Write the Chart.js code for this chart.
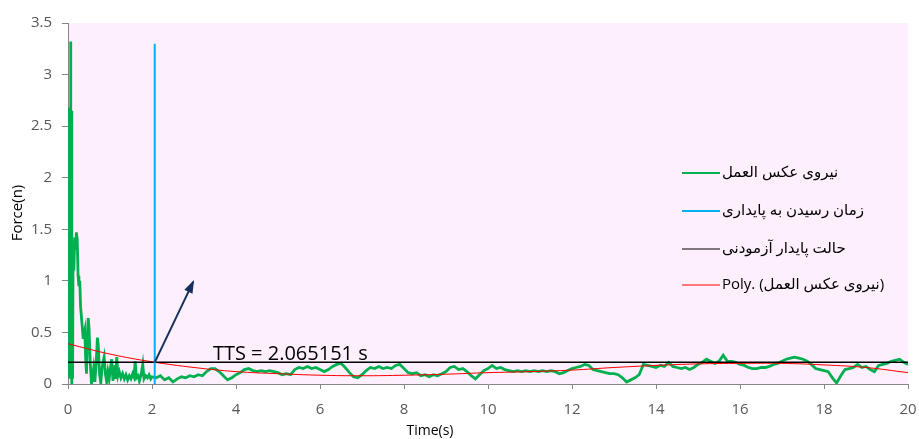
<!DOCTYPE html>
<html>
<head>
<meta charset="utf-8">
<script src="https://cdn.jsdelivr.net/npm/chart.js@4.4.1/dist/chart.umd.min.js"></script>
<style>
  body { margin: 0; background: #ffffff; }
  #wrap { width: 919px; height: 439px; }
</style>
</head>
<body>
<div id="wrap"><canvas id="forceChart" width="919" height="439"></canvas></div>
<script>
// نیروی عکس العمل - time (s) / force (n)
const timeSamples = [
  0.00, 0.01, 0.02, 0.03, 0.04, 0.05, 0.06, 0.07, 0.08, 0.09, 0.10, 0.11, 0.12, 0.14, 0.16, 0.18,
  0.20, 0.22, 0.24, 0.26, 0.28, 0.30, 0.33, 0.36, 0.38, 0.40, 0.42, 0.44, 0.46, 0.48, 0.50, 0.53,
  0.56, 0.58, 0.61, 0.64, 0.67, 0.70, 0.72, 0.75, 0.78, 0.81, 0.84, 0.86, 0.89, 0.92, 0.95, 0.98,
  1.01, 1.04, 1.07, 1.10, 1.13, 1.16, 1.19, 1.22, 1.26, 1.30, 1.34, 1.38, 1.42, 1.46, 1.50, 1.54,
  1.57, 1.60, 1.63, 1.67, 1.70, 1.74, 1.78, 1.81, 1.85, 1.89, 1.93, 1.97,
  2.0, 2.1, 2.2, 2.3, 2.4, 2.5, 2.6, 2.7, 2.8, 2.9,
  3.0, 3.1, 3.2, 3.3, 3.4, 3.5, 3.6, 3.7, 3.8, 3.9,
  4.0, 4.1, 4.2, 4.3, 4.4, 4.5, 4.6, 4.7, 4.8, 4.9,
  5.0, 5.1, 5.2, 5.3, 5.4, 5.5, 5.6, 5.7, 5.8, 5.9,
  6.0, 6.1, 6.2, 6.3, 6.4, 6.5, 6.6, 6.7, 6.8, 6.9,
  7.0, 7.1, 7.2, 7.3, 7.4, 7.5, 7.6, 7.7, 7.8, 7.9,
  8.0, 8.1, 8.2, 8.3, 8.4, 8.5, 8.6, 8.7, 8.8, 8.9,
  9.0, 9.1, 9.2, 9.3, 9.4, 9.5, 9.6, 9.7, 9.8, 9.9,
  10.0, 10.1, 10.2, 10.3, 10.4, 10.5, 10.6, 10.7, 10.8, 10.9,
  11.0, 11.1, 11.2, 11.3, 11.4, 11.5, 11.6, 11.7, 11.8, 11.9,
  12.0, 12.1, 12.2, 12.3, 12.4, 12.5, 12.6, 12.7, 12.8, 12.9,
  13.0, 13.1, 13.2, 13.3, 13.4, 13.5, 13.6, 13.7, 13.8, 13.9,
  14.0, 14.1, 14.2, 14.3, 14.4, 14.5, 14.6, 14.7, 14.8, 14.9,
  15.0, 15.1, 15.2, 15.3, 15.4, 15.5, 15.6, 15.7, 15.8, 15.9,
  16.0, 16.1, 16.2, 16.3, 16.4, 16.5, 16.6, 16.7, 16.8, 16.9,
  17.0, 17.1, 17.2, 17.3, 17.4, 17.5, 17.6, 17.7, 17.8, 17.9,
  18.0, 18.1, 18.2, 18.3, 18.4, 18.5, 18.6, 18.7, 18.8, 18.9,
  19.0, 19.1, 19.2, 19.3, 19.4, 19.5, 19.6, 19.7, 19.8, 19.9,
  20.0
];
const forceValues = [
  0.10, 2.60, 0.50, 2.68, 0.05, 1.50, 3.32, 0.30, 2.65, 0.00, 1.20, 0.05, 1.30, 1.10, 1.42, 1.30,
  1.47, 1.40, 1.05, 0.95, 1.00, 0.75, 0.60, 0.45, 0.48, 0.52, 0.25, 0.10, 0.40, 0.64, 0.55, 0.20,
  0.00, 0.05, 0.15, 0.02, 0.20, 0.45, 0.38, 0.10, 0.01, 0.15, 0.22, 0.26, 0.10, 0.02, 0.12, 0.05,
  0.15, 0.24, 0.03, 0.18, 0.05, 0.26, 0.08, 0.12, 0.06, 0.10, 0.05, 0.09, 0.04, 0.08, 0.05, 0.10,
  0.07, 0.22, 0.06, 0.08, 0.03, 0.09, 0.19, 0.05, 0.08, 0.06, 0.09, 0.05,
  0.07, 0.06, 0.08, 0.04, 0.06, 0.02, 0.05, 0.07, 0.06, 0.08,
  0.07, 0.09, 0.08, 0.12, 0.15, 0.15, 0.12, 0.08, 0.04, 0.06,
  0.09, 0.11, 0.14, 0.15, 0.13, 0.12, 0.13, 0.12, 0.13, 0.12,
  0.11, 0.09, 0.10, 0.09, 0.14, 0.16, 0.15, 0.17, 0.15, 0.16,
  0.14, 0.12, 0.14, 0.17, 0.19, 0.20, 0.16, 0.11, 0.07, 0.06,
  0.09, 0.13, 0.16, 0.15, 0.17, 0.15, 0.16, 0.15, 0.18, 0.19,
  0.15, 0.11, 0.10, 0.11, 0.08, 0.09, 0.07, 0.09, 0.08, 0.10,
  0.12, 0.16, 0.17, 0.14, 0.15, 0.12, 0.08, 0.05, 0.09, 0.13,
  0.15, 0.18, 0.15, 0.16, 0.14, 0.13, 0.12, 0.13, 0.12, 0.13,
  0.12, 0.13, 0.12, 0.13, 0.12, 0.13, 0.12, 0.10, 0.11, 0.13,
  0.15, 0.16, 0.17, 0.19, 0.18, 0.14, 0.13, 0.12, 0.11, 0.10,
  0.10, 0.09, 0.06, 0.02, 0.04, 0.06, 0.09, 0.19, 0.18, 0.17,
  0.16, 0.18, 0.17, 0.21, 0.17, 0.16, 0.15, 0.16, 0.14, 0.16,
  0.19, 0.21, 0.24, 0.22, 0.20, 0.22, 0.28, 0.22, 0.22, 0.21,
  0.19, 0.18, 0.16, 0.15, 0.15, 0.16, 0.16, 0.17, 0.19, 0.20,
  0.22, 0.24, 0.25, 0.26, 0.25, 0.24, 0.22, 0.19, 0.15, 0.14,
  0.13, 0.12, 0.06, 0.01, 0.08, 0.14, 0.15, 0.16, 0.19, 0.16,
  0.17, 0.14, 0.12, 0.18, 0.19, 0.20, 0.22, 0.23, 0.24, 0.21,
  0.19
];

// Poly. trend line (reading at each second)
const polyTime = [0, 1, 2, 3, 4, 5, 6, 7, 8, 9, 10, 11, 12, 13, 14, 15, 16, 17, 18, 19, 20];
const polyForce = [0.39, 0.29, 0.215, 0.16, 0.12, 0.10, 0.085, 0.08, 0.085, 0.095, 0.11,
                   0.12, 0.135, 0.16, 0.18, 0.195, 0.20, 0.20, 0.185, 0.16, 0.11];

// حالت پایدار آزمودنی
const steadyTime = [0, 20];
const steadyForce = [0.21, 0.21];

// زمان رسیدن به پایداری
const ttsTime = [2.065151, 2.065151];
const ttsForce = [0, 3.3];
const ttsText = 'TTS = 2.065151 s';
const ttsTextAt = [3.45, 0.21];

// arrow
const arrowTime = [2.065, 2.98];
const arrowForce = [0.21, 0.99];

const xTitle = 'Time(s)';
const yTitle = 'Force(n)';

function toPoints(xs, ys) {
    return xs.map((x, i) => ({ x: x, y: ys[i] }));
}

const latinFont = '"Open Sans", "DejaVu Sans", sans-serif';
const legendFont = '"Open Sans", "DejaVu Sans", sans-serif';

// plot background, legend, titles, label, arrowhead
const decorPlugin = {
    id: 'decor',
    beforeDraw(chart) {
        const a = chart.chartArea;
        const ctx = chart.ctx;
        ctx.save();
        ctx.fillStyle = '#FDEFFC';
        ctx.fillRect(a.left, a.top, a.right - a.left, a.bottom - a.top);
        ctx.restore();
    },
    afterDatasetsDraw(chart) {
        const ctx = chart.ctx;
        const xs = chart.scales.x;
        const ys = chart.scales.y;

        // arrowhead on the arrow dataset
        const meta = chart.getDatasetMeta(4);
        const p0 = meta.data[0], p1 = meta.data[1];
        const ang = Math.atan2(p1.y - p0.y, p1.x - p0.x);
        const len = 11, half = 4.5;
        ctx.save();
        ctx.fillStyle = '#15305F';
        ctx.beginPath();
        ctx.moveTo(p1.x + Math.cos(ang) * 2, p1.y + Math.sin(ang) * 2);
        ctx.lineTo(p1.x - Math.cos(ang) * len - Math.sin(ang) * half, p1.y - Math.sin(ang) * len + Math.cos(ang) * half);
        ctx.lineTo(p1.x - Math.cos(ang) * len + Math.sin(ang) * half, p1.y - Math.sin(ang) * len - Math.cos(ang) * half);
        ctx.closePath();
        ctx.fill();

        // TTS label
        ctx.fillStyle = '#000000';
        ctx.font = '20px ' + latinFont;
        ctx.textAlign = 'left';
        ctx.textBaseline = 'alphabetic';
        ctx.fillText(ttsText, xs.getPixelForValue(ttsTextAt[0]), ys.getPixelForValue(ttsTextAt[1]) - 2);
        ctx.restore();
    },
    afterDraw(chart) {
        const ctx = chart.ctx;
        ctx.save();
        // legend inside the plot
        const rows = [173, 211, 249, 285];
        let r = 0;
        chart.data.datasets.forEach(ds => {
            if (!ds.inLegend) return;
            const y = rows[r++];
            ctx.strokeStyle = ds.borderColor;
            ctx.lineWidth = ds.legendWidth;
            ctx.beginPath();
            ctx.moveTo(682, y);
            ctx.lineTo(720, y);
            ctx.stroke();
            ctx.fillStyle = '#000000';
            ctx.font = '15px ' + legendFont;
            ctx.textAlign = 'left';
            ctx.textBaseline = 'middle';
            ctx.fillText(ds.label, 722, y);
        });

        // axis titles
        ctx.fillStyle = '#000000';
        ctx.font = '14px ' + latinFont;
        ctx.textAlign = 'center';
        ctx.textBaseline = 'middle';
        ctx.fillText(xTitle, 430, 431);
        ctx.translate(18, 213);
        ctx.rotate(-Math.PI / 2);
        ctx.font = '15px ' + latinFont;
        ctx.fillText(yTitle, 0, 0);
        ctx.restore();
    }
};

const ctx = document.getElementById('forceChart').getContext('2d');
new Chart(ctx, {
    type: 'line',
    data: {
        datasets: [{
            label: 'نیروی عکس العمل',
            data: toPoints(timeSamples, forceValues),
            borderColor: '#00B050',
            borderWidth: 2.8,
            tension: 0,
            order: 5,
            inLegend: true,
            legendWidth: 2
        },
        {
            label: 'زمان رسیدن به پایداری',
            data: toPoints(ttsTime, ttsForce),
            borderColor: '#00B0F0',
            borderWidth: 2,
            order: 2,
            inLegend: true,
            legendWidth: 2
        },
        {
            label: 'حالت پایدار آزمودنی',
            data: toPoints(steadyTime, steadyForce),
            borderColor: '#000000',
            borderWidth: 1.5,
            order: 3,
            inLegend: true,
            legendWidth: 1
        },
        {
            label: 'Poly. (نیروی عکس العمل)',
            data: toPoints(polyTime, polyForce),
            borderColor: '#FF0000',
            borderWidth: 1,
            tension: 0.4,
            order: 4,
            inLegend: true,
            legendWidth: 1
        },
        {
            label: 'arrow',
            data: toPoints(arrowTime, arrowForce),
            borderColor: '#15305F',
            borderWidth: 2,
            order: 1,
            inLegend: false
        }]
    },
    options: {
        responsive: false,
        animation: false,
        devicePixelRatio: 1,
        elements: { point: { radius: 0 } },
        layout: { padding: { left: 0, right: 11, top: 23, bottom: 0 } },
        plugins: {
            legend: { display: false },
            tooltip: { enabled: false }
        },
        scales: {
            x: {
                type: 'linear',
                min: 0,
                max: 20,
                afterFit: s => { s.height = 55; s.paddingLeft = 0; s.paddingRight = 0; },
                ticks: {
                    stepSize: 2,
                    padding: 12,
                    color: '#595959',
                    font: { family: latinFont, size: 15 }
                },
                grid: { drawOnChartArea: false, tickLength: 5, color: '#868686' },
                border: { color: '#868686' }
            },
            y: {
                min: 0,
                max: 3.5,
                afterFit: s => { s.width = 68; s.paddingTop = 0; s.paddingBottom = 0; },
                ticks: {
                    stepSize: 0.5,
                    padding: 10,
                    color: '#595959',
                    font: { family: latinFont, size: 15 },
                    callback: v => String(+v.toFixed(2))
                },
                grid: { drawOnChartArea: false, tickLength: 6, color: '#868686' },
                border: { color: '#868686' }
            }
        }
    },
    plugins: [decorPlugin]
});
</script>
</body>
</html>
